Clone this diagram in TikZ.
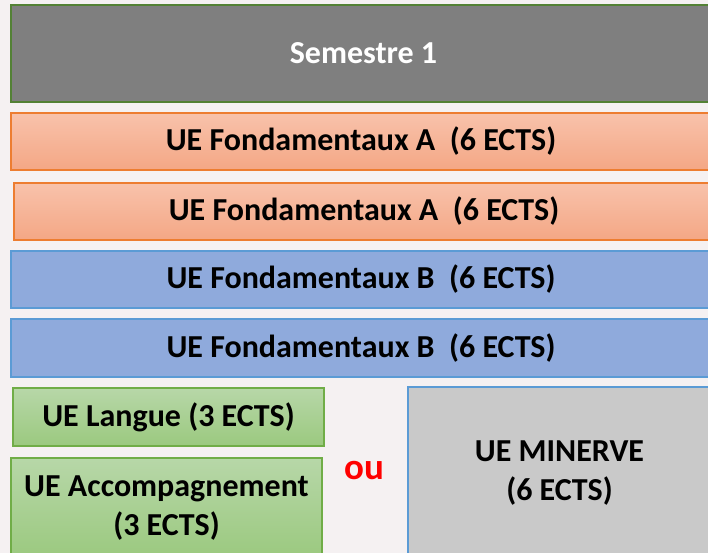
\documentclass[tikz,border=0pt]{standalone}
\usepackage{fontspec}
\setmainfont{Carlito}
\usepackage{xcolor}
\usetikzlibrary{positioning}

\definecolor{pagebg}{HTML}{F5F1F2}
\definecolor{semgrey}{HTML}{7F7F7F}
\definecolor{semgreen}{HTML}{538135}
\definecolor{ueorange}{HTML}{ED7D31}
\definecolor{orangetop}{HTML}{F8C2AB}
\definecolor{orangebot}{HTML}{F4A785}
\definecolor{ueblue}{HTML}{8FAADC}
\definecolor{blueline}{HTML}{5B9BD5}
\definecolor{uegreen}{HTML}{70AD47}
\definecolor{greentop}{HTML}{B7D7A8}
\definecolor{greenbot}{HTML}{9BC97F}
\definecolor{minervegrey}{HTML}{C9C9C9}

\begin{document}
\begin{tikzpicture}[
    x=1pt, y=-1pt,
    node distance=11pt,
    every node/.style={font=\bfseries\fontsize{32}{39}\selectfont, inner sep=0pt, outer sep=0pt},
    semblock/.style={rectangle, draw=semgreen, line width=1.6pt, fill=semgrey, text=white, minimum width=705pt, minimum height=97pt, anchor=north west},
    uea/.style={rectangle, draw=ueorange, line width=1.3pt, top color=orangetop, bottom color=orangebot, minimum width=700pt, minimum height=57pt},
    ueb/.style={rectangle, draw=blueline, line width=1.3pt, fill=ueblue, minimum width=700pt, minimum height=57pt},
    uegr/.style={rectangle, draw=uegreen, line width=1.3pt, top color=greentop, bottom color=greenbot, minimum width=311pt, align=center},
    minerve/.style={rectangle, draw=blueline, line width=1.3pt, fill=minervegrey, minimum width=303pt, minimum height=172pt, align=center, anchor=north west}
]
    \fill[pagebg, use as bounding box] (0,0) rectangle (708,553);

    % Nodes
    \node[semblock] (sem) at (11,5) {Semestre 1};
    \node[uea, below=of sem.south west, anchor=north west] (fa1) {UE Fondamentaux A\ \ (6 ECTS)};
    \node[uea, below=13pt of fa1.south west, anchor=north west, xshift=3pt] (fa2) {UE Fondamentaux A\ \ (6 ECTS)};
    \node[ueb, below=of fa2.south west, anchor=north west, xshift=-3pt] (fb1) {UE Fondamentaux B\ \ (6 ECTS)};
    \node[ueb, below=of fb1.south west, anchor=north west, minimum height=58pt] (fb2) {UE Fondamentaux B\ \ (6 ECTS)};

    \node[uegr, below=of fb2.south west, anchor=north west, xshift=2pt, minimum height=58pt] (langue) {UE Langue (3 ECTS)};
    \node[uegr, below=12pt of langue.south west, anchor=north west, xshift=-2pt, minimum height=100pt] (accomp) {UE Accompagnement\\(3 ECTS)};
    \node[minerve] (min) at (408,387) {UE MINERVE\\(6 ECTS)};

    \node[text=red, font=\bfseries\fontsize{37}{42}\selectfont] (ou) at (364,471) {ou};
\end{tikzpicture}
\end{document}
